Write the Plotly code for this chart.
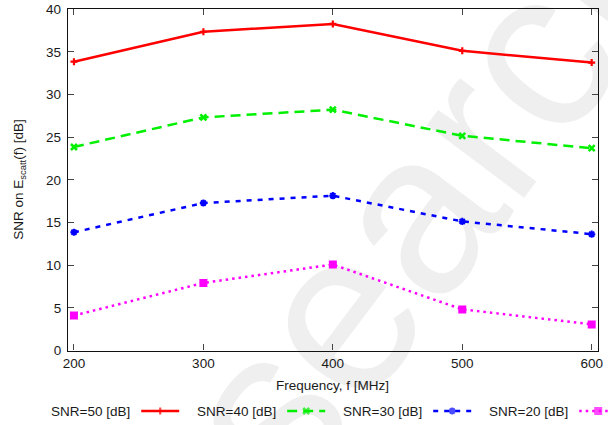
import plotly.graph_objects as go

# Frequency sweep and SNR of the scattered field for each noise level
freq_mhz = [200, 300, 400, 500, 600]
snr_50 = [33.86, 37.37, 38.28, 35.13, 33.76]
snr_40 = [23.86, 27.33, 28.23, 25.17, 23.72]
snr_30 = [13.86, 17.29, 18.15, 15.13, 13.64]
snr_20 = [4.1, 7.92, 10.08, 4.82, 3.06]
series_names = ["SNR=50 [dB]", "SNR=40 [dB]", "SNR=30 [dB]", "SNR=20 [dB]"]
y_ticks = [0, 5, 10, 15, 20, 25, 30, 35, 40]

W, H = 608, 425
FONT = "Liberation Sans, Arial, sans-serif"
TXT = "#1a1a1a"

styles = [
    dict(color="#ff0000", dash="solid", symbol="cross-thin", msize=5, mline=2.2),
    dict(color="#00f000", dash="10px,6px", symbol="x-thin", msize=6, mline=2.6),
    dict(color="#0000ff", dash="5px,6px", symbol="asterisk", msize=6, mline=2.0),
    dict(color="#ff00ff", dash="2.5px,4px", symbol="square", msize=8, mline=0),
]
series = [snr_50, snr_40, snr_30, snr_20]

fig = go.Figure()

for name, vals, st in zip(series_names, series, styles):
    fig.add_trace(go.Scatter(
        x=freq_mhz, y=vals, name=name, mode="lines+markers",
        line=dict(color=st["color"], width=2.5, dash=st["dash"]),
        marker=dict(symbol=st["symbol"], size=st["msize"], color=st["color"],
                    line=dict(color=st["color"], width=st["mline"])),
        showlegend=False, xaxis="x", yaxis="y",
    ))

# Key row drawn on a hidden pixel-scaled axis: label, then line sample with marker
key_text_end = 131.7
key_step = 146.0
key_y = 14
annotations = []
for i, (name, st) in enumerate(zip(series_names, styles)):
    xe = key_text_end + i * key_step
    annotations.append(dict(
        x=xe, y=key_y, xref="x2", yref="y2", text=name, showarrow=False,
        xanchor="right", yanchor="middle",
        font=dict(family=FONT, size=13.5, color=TXT),
    ))
    fig.add_trace(go.Scatter(
        x=[xe + 9.5, xe + 28.5, xe + 47.5], y=[key_y] * 3, mode="lines+markers",
        line=dict(color=st["color"], width=2.5, dash=st["dash"]),
        marker=dict(symbol=st["symbol"], size=[0, st["msize"], 0], color=st["color"],
                    line=dict(color=st["color"], width=st["mline"])),
        showlegend=False, hoverinfo="skip", xaxis="x2", yaxis="y2", cliponaxis=False,
    ))

# Axis titles
annotations.append(dict(
    x=332 / W, y=(H - 385) / H, xref="paper", yref="paper",
    text="Frequency, f [MHz]", showarrow=False, xanchor="center", yanchor="middle",
    font=dict(family=FONT, size=13.5, color=TXT),
))
annotations.append(dict(
    x=18.8 / W, y=(H - 180) / H, xref="paper", yref="paper",
    text="SNR on E<sub>scatt</sub>(f) [dB]", showarrow=False, textangle=-90,
    xanchor="center", yanchor="middle",
    font=dict(family=FONT, size=13.5, color=TXT),
))

axis_common = dict(
    showline=True, linecolor="#111111", linewidth=1.3, mirror="ticks",
    ticks="inside", ticklen=6, tickwidth=1, tickcolor="#444444",
    showgrid=False, zeroline=False,
    tickfont=dict(family=FONT, size=13.5, color=TXT),
)

fig.update_layout(
    width=W, height=H,
    margin=dict(l=0, r=0, t=0, b=0, autoexpand=False),
    paper_bgcolor="white", plot_bgcolor="rgba(0,0,0,0)",
    xaxis=dict(domain=[68 / W, 598.3 / W], range=[195.4, 605.1],
               tickvals=freq_mhz, anchor="y", **axis_common),
    yaxis=dict(domain=[(H - 350.5) / H, (H - 9.3) / H], range=[0, 40],
               tickvals=y_ticks, anchor="x", ticklabelstandoff=3, **axis_common),
    xaxis2=dict(domain=[0, 1], range=[0, W], visible=False, anchor="y2"),
    yaxis2=dict(domain=[0, 0.1], range=[0, 0.1 * H], visible=False, anchor="x2"),
    annotations=annotations,
    shapes=[dict(
        type="rect", xref="paper", yref="paper",
        x0=418 / W - 0.001, x1=418 / W + 0.001,
        y0=(H - 170) / H - 0.001, y1=(H - 170) / H + 0.001,
        line=dict(width=0), fillcolor="rgba(0,0,0,0)", layer="below",
        label=dict(text="search", textangle=-53, textposition="middle center",
                   font=dict(family=FONT, size=230, color="#efefef")),
    )],
)

fig.write_html("out.html")
